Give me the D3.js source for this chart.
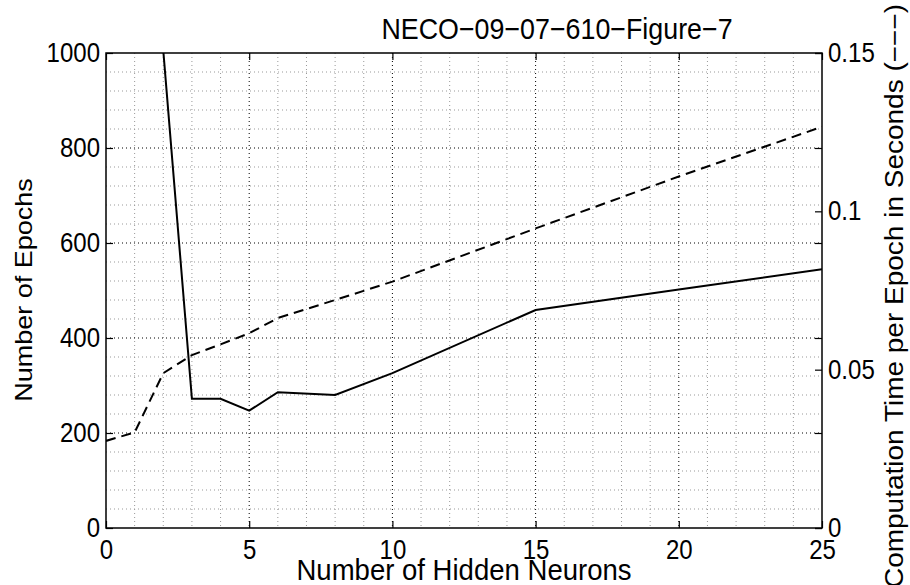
<!DOCTYPE html>
<html><head><meta charset="utf-8">
<script src="https://cdn.jsdelivr.net/npm/d3@7"></script>
<style>
body{margin:0;background:#fff;}
text{font-family:"Liberation Sans",Arial,sans-serif;fill:#000;}
</style></head>
<body>
<svg id="c" width="910" height="585"></svg>
<script>
const title = "NECO\u221209\u221207\u2212610\u2212Figure\u22127";
const xLabel = "Number of Hidden Neurons";
const yLeftLabel = "Number of Epochs";
const yRightLabel = "Computation Time per Epoch in Seconds (\u2212\u2212\u2212)";
const xTicks = [0, 5, 10, 15, 20, 25];
const yLeftTicks = [0, 200, 400, 600, 800, 1000];
const yRightTicks = [0, 0.05, 0.1, 0.15];
const yRightTickLabels = ["0", "0.05", "0.1", "0.15"];
const epochNeurons = [2, 3, 4, 5, 6, 8, 10, 15, 20, 25];
const epochs = [1005, 272, 272, 247, 286, 280, 326, 459, 502, 545];
const timeNeurons = [0, 1, 2, 3, 4, 5, 6, 8, 10, 15, 20, 25];
const times = [0.0275, 0.0302, 0.0489, 0.0546, 0.058, 0.0615, 0.0663, 0.072, 0.0778, 0.0946, 0.111, 0.1267];

const L = 106, R = 822, T = 53, B = 528;
const svg = d3.select("#c");
const x = d3.scaleLinear().domain([0, 25]).range([L, R]);
const yL = d3.scaleLinear().domain([0, 1000]).range([B, T]);
const yR = d3.scaleLinear().domain([0, 0.15]).range([B, T]);

svg.append("defs").append("clipPath").attr("id", "clip")
  .append("rect").attr("x", L).attr("y", T).attr("width", R - L).attr("height", B - T);

// minor grid
const minorX = d3.range(1, 25).filter(v => v % 5 !== 0);
const minorY = d3.range(40, 1000, 40).filter(v => v % 200 !== 0);
const g = svg.append("g");
g.selectAll(".mx").data(minorX).join("line")
  .attr("x1", d => x(d)).attr("x2", d => x(d)).attr("y1", T).attr("y2", B)
  .attr("stroke", "#999").attr("stroke-width", 1).attr("stroke-dasharray", "1,3");
g.selectAll(".my").data(minorY).join("line")
  .attr("x1", L).attr("x2", R).attr("y1", d => yL(d)).attr("y2", d => yL(d))
  .attr("stroke", "#999").attr("stroke-width", 1).attr("stroke-dasharray", "1,3");
// major grid
g.selectAll(".Mx").data(xTicks.slice(1, -1)).join("line")
  .attr("x1", d => x(d)).attr("x2", d => x(d)).attr("y1", T).attr("y2", B)
  .attr("stroke", "#000").attr("stroke-width", 1).attr("stroke-dasharray", "1,3");
g.selectAll(".My").data(yLeftTicks.slice(1, -1)).join("line")
  .attr("x1", L).attr("x2", R).attr("y1", d => yL(d)).attr("y2", d => yL(d))
  .attr("stroke", "#000").attr("stroke-width", 1).attr("stroke-dasharray", "1,3");

// lines
const lp = svg.append("g").attr("clip-path", "url(#clip)");
lp.append("path").datum(epochNeurons.map((n, i) => [n, epochs[i]]))
  .attr("d", d3.line().x(d => x(d[0])).y(d => yL(d[1])))
  .attr("fill", "none").attr("stroke", "#000").attr("stroke-width", 2);
lp.append("path").datum(timeNeurons.map((n, i) => [n, times[i]]))
  .attr("d", d3.line().x(d => x(d[0])).y(d => yR(d[1])))
  .attr("fill", "none").attr("stroke", "#000").attr("stroke-width", 2).attr("stroke-dasharray", "10,6");

// axes
const tk = 7;
const axB = svg.append("g").attr("transform", `translate(0,${B})`)
  .call(d3.axisBottom(x).tickValues(xTicks).tickSizeInner(-tk).tickSizeOuter(0).tickPadding(12).tickFormat(d3.format("d")));
const axT = svg.append("g").attr("transform", `translate(0,${T})`)
  .call(d3.axisTop(x).tickValues(xTicks).tickSizeInner(-tk).tickSizeOuter(0).tickFormat(""));
const axL = svg.append("g").attr("transform", `translate(${L},0)`)
  .call(d3.axisLeft(yL).tickValues(yLeftTicks).tickSizeInner(-tk).tickSizeOuter(0).tickPadding(6).tickFormat(d3.format("d")));
const axR2 = svg.append("g").attr("transform", `translate(${R},0)`)
  .call(d3.axisRight(yL).tickValues(yLeftTicks).tickSizeInner(-tk).tickSizeOuter(0).tickFormat(""));
const axR = svg.append("g").attr("transform", `translate(${R},0)`)
  .call(d3.axisRight(yR).tickValues(yRightTicks).tickSizeInner(-tk).tickSizeOuter(0).tickPadding(6)
    .tickFormat((d, i) => yRightTickLabels[i]));
const sx = 0.89;
[axB, axT, axL, axR2, axR].forEach(a => {
  a.selectAll(".domain").remove();
  a.selectAll("line").attr("stroke", "#000").attr("stroke-width", 1.2);
  a.selectAll("text").style("font-family", "'Liberation Sans',Arial,sans-serif").style("font-size", "27px").attr("fill", "#000")
    .attr("transform", function () {
      const ax = +(this.getAttribute("x") || 0);
      return `translate(${ax},0) scale(${sx},1) translate(${-ax},0)`;
    });
});
svg.append("rect").attr("x", L).attr("y", T).attr("width", R - L).attr("height", B - T)
  .attr("fill", "none").attr("stroke", "#000").attr("stroke-width", 1.5);

// labels
svg.append("text").attr("transform", "translate(557,39) scale(0.925,1)").attr("text-anchor", "middle")
  .style("font-size", "29px").text(title);
svg.append("text").attr("transform", `translate(${(L + R) / 2},580) scale(0.95,1)`).attr("text-anchor", "middle")
  .style("font-size", "29px").text(xLabel);
svg.append("text").attr("transform", `translate(32,290) scale(0.9,1) rotate(-90)`).attr("text-anchor", "middle")
  .style("font-size", "27px").text(yLeftLabel);
svg.append("text").attr("transform", `translate(903,296) scale(0.9,1) rotate(-90)`).attr("text-anchor", "middle")
  .style("font-size", "28px").text(yRightLabel);
</script>
</body></html>
